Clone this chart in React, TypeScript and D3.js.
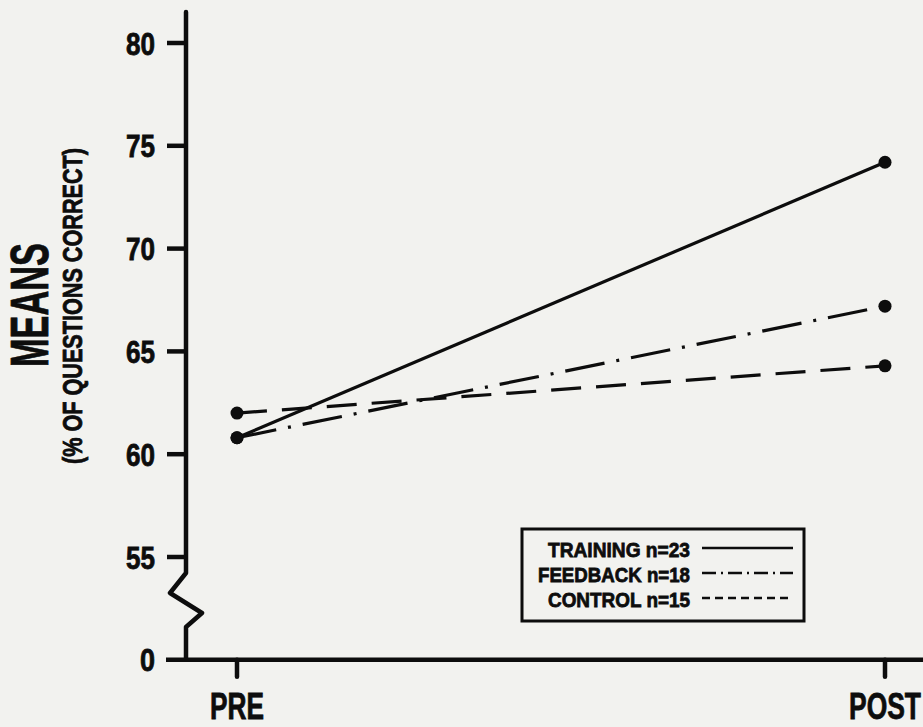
import React from "react";
import * as d3 from "d3";

const W = 923;
const H = 727;

const phases = ["PRE", "POST"];
const yTicks = [55, 60, 65, 70, 75, 80];

const groups = ["TRAINING", "FEEDBACK", "CONTROL"];
const groupN = [23, 18, 15];
const trainingMeans = [60.8, 74.2];
const feedbackMeans = [60.8, 67.2];
const controlMeans = [62.0, 64.3];

const FONT = "'Liberation Sans', Arial, sans-serif";
const INK = "#0d0d0d";

const dashes = ["none", "40 12 3 12", "30 15"];
const legendDashes = ["none", "14 5 2 5", "8 5"];
// the original lettering is a condensed face, so squeeze glyphs to these widths
const legendWidths = [142, 152, 142];

const App = () => {
  const x = d3.scalePoint<string>().domain(phases).range([237, 885]);
  // broken axis: 55..80 linear, "0" placed one tick step below 55
  const y = d3.scaleLinear().domain([55, 80]).range([557, 43]);
  const yZero = y(50);
  const axisX = 186;

  const series = [trainingMeans, feedbackMeans, controlMeans];
  const line = d3
    .line<number>()
    .x((_, i) => x(phases[i]) as number)
    .y((d) => y(d));

  const brk = y(55);
  const axisPath = `M${axisX},12 V${brk + 16} L${axisX - 16},${brk + 36} L${axisX + 16},${brk + 56} L${axisX},${brk + 70} V${yZero}`;

  const legendLine = d3.line();

  return (
    <svg
      width={W}
      height={H}
      style={{ position: "absolute", left: 0, top: 0, background: "#f2f2ef" }}
      fontFamily={FONT}
      fontWeight="bold"
    >
      <rect width={W} height={H} fill="#f2f2ef" />

      <g fill={INK} stroke={INK} strokeWidth={0.8}>
        {/* y axis title */}
        <g transform="translate(29,305) rotate(-90)">
          <text textAnchor="middle" dy="0.36em" fontSize={54} textLength={124} lengthAdjust="spacingAndGlyphs">
            MEANS
          </text>
        </g>
        <g transform="translate(72,306) rotate(-90)">
          <text textAnchor="middle" dy="0.36em" fontSize={28} textLength={316} lengthAdjust="spacingAndGlyphs">
            (% OF QUESTIONS CORRECT)
          </text>
        </g>

        {yTicks.map((t) => (
          <text key={t} x={155} y={y(t)} dy="0.36em" textAnchor="end" fontSize={32} textLength={29} lengthAdjust="spacingAndGlyphs">
            {String(t)}
          </text>
        ))}
        <text x={155} y={yZero} dy="0.36em" textAnchor="end" fontSize={32} textLength={15} lengthAdjust="spacingAndGlyphs">
          0
        </text>

        {phases.map((p, i) => (
          <text
            key={p}
            x={x(p)}
            y={719}
            textAnchor="middle"
            fontSize={36}
            textLength={i === 0 ? 54 : 72}
            lengthAdjust="spacingAndGlyphs"
          >
            {p}
          </text>
        ))}

        {groups.map((g, i) => (
          <text
            key={g}
            x={690}
            y={557 + i * 25}
            textAnchor="end"
            fontSize={21}
            textLength={legendWidths[i]}
            lengthAdjust="spacingAndGlyphs"
          >
            {`${g} n=${groupN[i]}`}
          </text>
        ))}
      </g>

      {/* y axis */}
      <path d={axisPath} fill="none" stroke={INK} strokeWidth={4.5} strokeLinejoin="round" strokeLinecap="round" />
      {yTicks.map((t) => (
        <line key={t} x1={axisX - 19} x2={axisX} y1={y(t)} y2={y(t)} stroke={INK} strokeWidth={4.5} />
      ))}

      {/* x axis */}
      <line x1={166} x2={W} y1={yZero} y2={yZero} stroke={INK} strokeWidth={4.5} />
      {phases.map((p) => (
        <line key={p} x1={x(p)} x2={x(p)} y1={yZero} y2={yZero + 17} stroke={INK} strokeWidth={4.5} strokeLinecap="round" />
      ))}

      {/* series */}
      {series.map((s, i) => (
        <g key={groups[i]}>
          <path d={line(s) as string} fill="none" stroke={INK} strokeWidth={3.2} strokeDasharray={dashes[i]} />
          {s.map((v, j) => (
            <circle key={j} cx={x(phases[j])} cy={y(v)} r={6.5} fill={INK} />
          ))}
        </g>
      ))}

      {/* legend */}
      <rect x={522} y={529} width={282} height={92} fill="none" stroke={INK} strokeWidth={3} />
      {groups.map((g, i) => (
        <path
          key={g}
          d={legendLine([[702, 548 + i * 25], [793, 548 + i * 25]]) as string}
          stroke={INK}
          strokeWidth={2.5}
          strokeDasharray={legendDashes[i]}
        />
      ))}
    </svg>
  );
};

export default App;
